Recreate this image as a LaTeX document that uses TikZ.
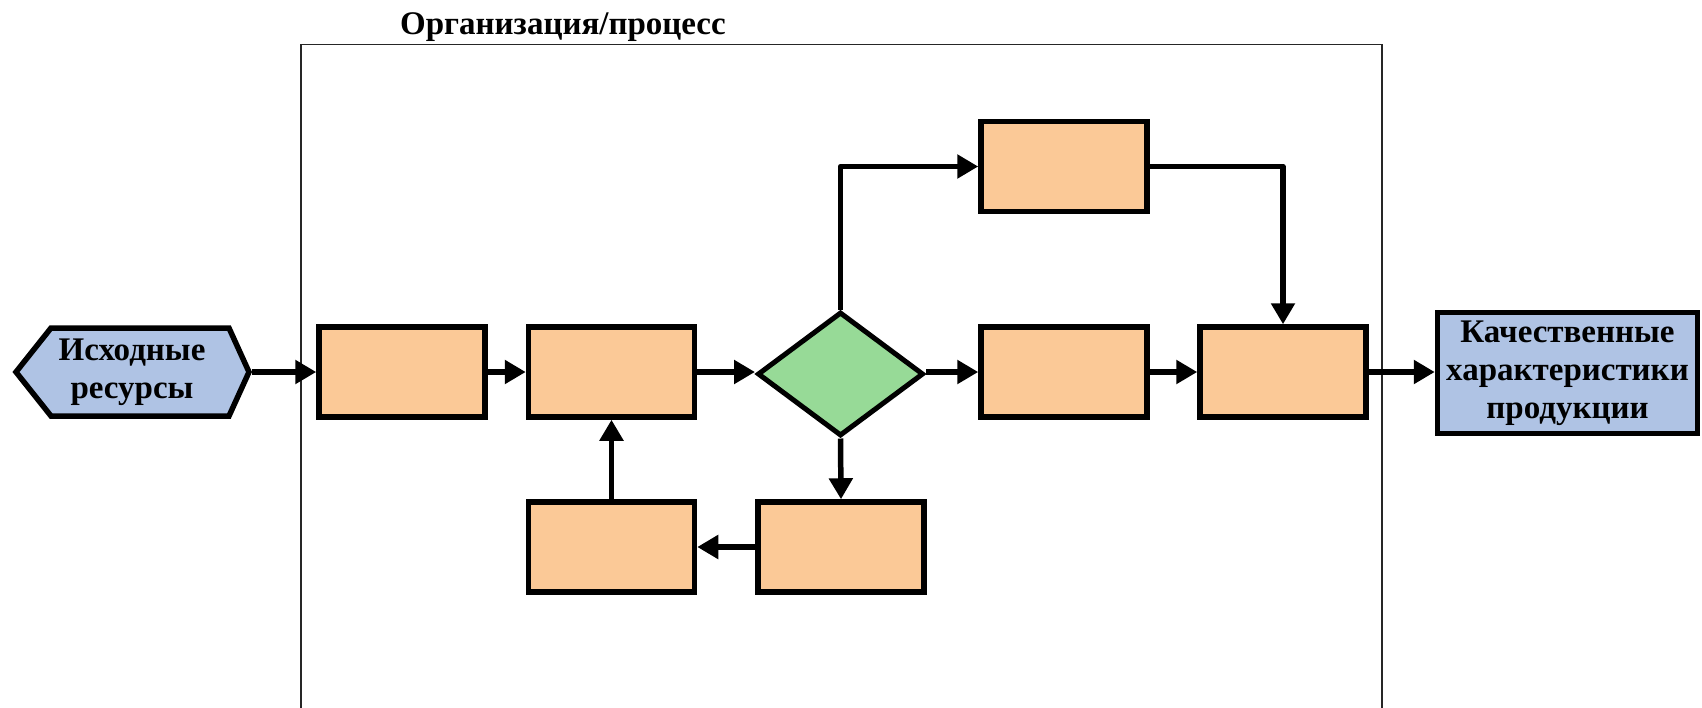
\documentclass[tikz,border=0pt]{standalone}
\usepackage{fontspec}
\setmainfont{Liberation Serif}
\usetikzlibrary{shapes.geometric,arrows.meta}
\definecolor{boxorange}{HTML}{FBC997}
\definecolor{decgreen}{HTML}{97DA97}
\definecolor{ioblue}{HTML}{AFC3E4}
\tikzset{
  stepbox/.style={draw, line width=5.5pt, fill=boxorange, minimum width=166pt, minimum height=90pt, inner sep=0pt},
  decision/.style={diamond, draw, line width=5pt, fill=decgreen, minimum width=166pt, minimum height=124pt, inner sep=0pt},
  flow/.style={line width=5.5pt, line join=round, -{Triangle[length=21pt,width=23pt]}},
  labeltext/.style={font=\bfseries\fontsize{33}{38}\selectfont, align=center, inner sep=0pt},
}
\begin{document}
\begin{tikzpicture}[x=1pt,y=-1pt]
\useasboundingbox (0,0) rectangle (1702,707);
% frame
\draw[line width=1.3pt, black!85] (301,720) -- (301,44.5) -- (1382,44.5) -- (1382,720);
\node[font=\bfseries\fontsize{33}{38}\selectfont, anchor=base] (title) at (563,34) {Организация/процесс};
% input hexagon
\draw[line width=5.5pt, fill=ioblue, line join=miter] (16,372) -- (51,328) -- (229,328) -- (249,372) -- (229,416) -- (51,416) -- cycle;
\node[labeltext, minimum width=239pt, minimum height=94pt] (hex) at (132,372) {Исходные\\ресурсы};
% process boxes
\node[stepbox] (b1) at (402,372) {};
\node[stepbox] (b2) at (611.5,372) {};
\node[decision] (dec) at (840.5,374) {};
\node[stepbox] (bt) at (1064,166.5) {};
\node[stepbox] (bm1) at (1064,372) {};
\node[stepbox] (bm2) at (1283,372) {};
\node[stepbox] (bb1) at (611.5,547) {};
\node[stepbox] (bb2) at (841,547) {};
% output
\node[draw, line width=5.5pt, fill=ioblue, minimum width=260pt, minimum height=121pt, labeltext, inner sep=0pt] (out) at (1567.5,373) {Качественные\\характеристики\\продукции};
% connectors
\draw[flow] (hex.east) -- (b1.west);
\draw[flow] (b1.east) -- (b2.west);
\draw[flow] (b2.east) -- (b2.east -| dec.west);
\draw[flow] (dec.east |- b2.east) -- (bm1.west);
\draw[flow] (bm1.east) -- (bm2.west);
\draw[flow] (bm2.east) -- (bm2.east -| out.west);
\draw[flow] (dec.north) |- (bt.west);
\draw[flow] (bt.east) -| (bm2.north);
\draw[flow] (dec.south) -- (bb2.north);
\draw[flow] (bb2.west) -- (bb1.east);
\draw[flow] (bb1.north) -- (b2.south);
\end{tikzpicture}
\end{document}
